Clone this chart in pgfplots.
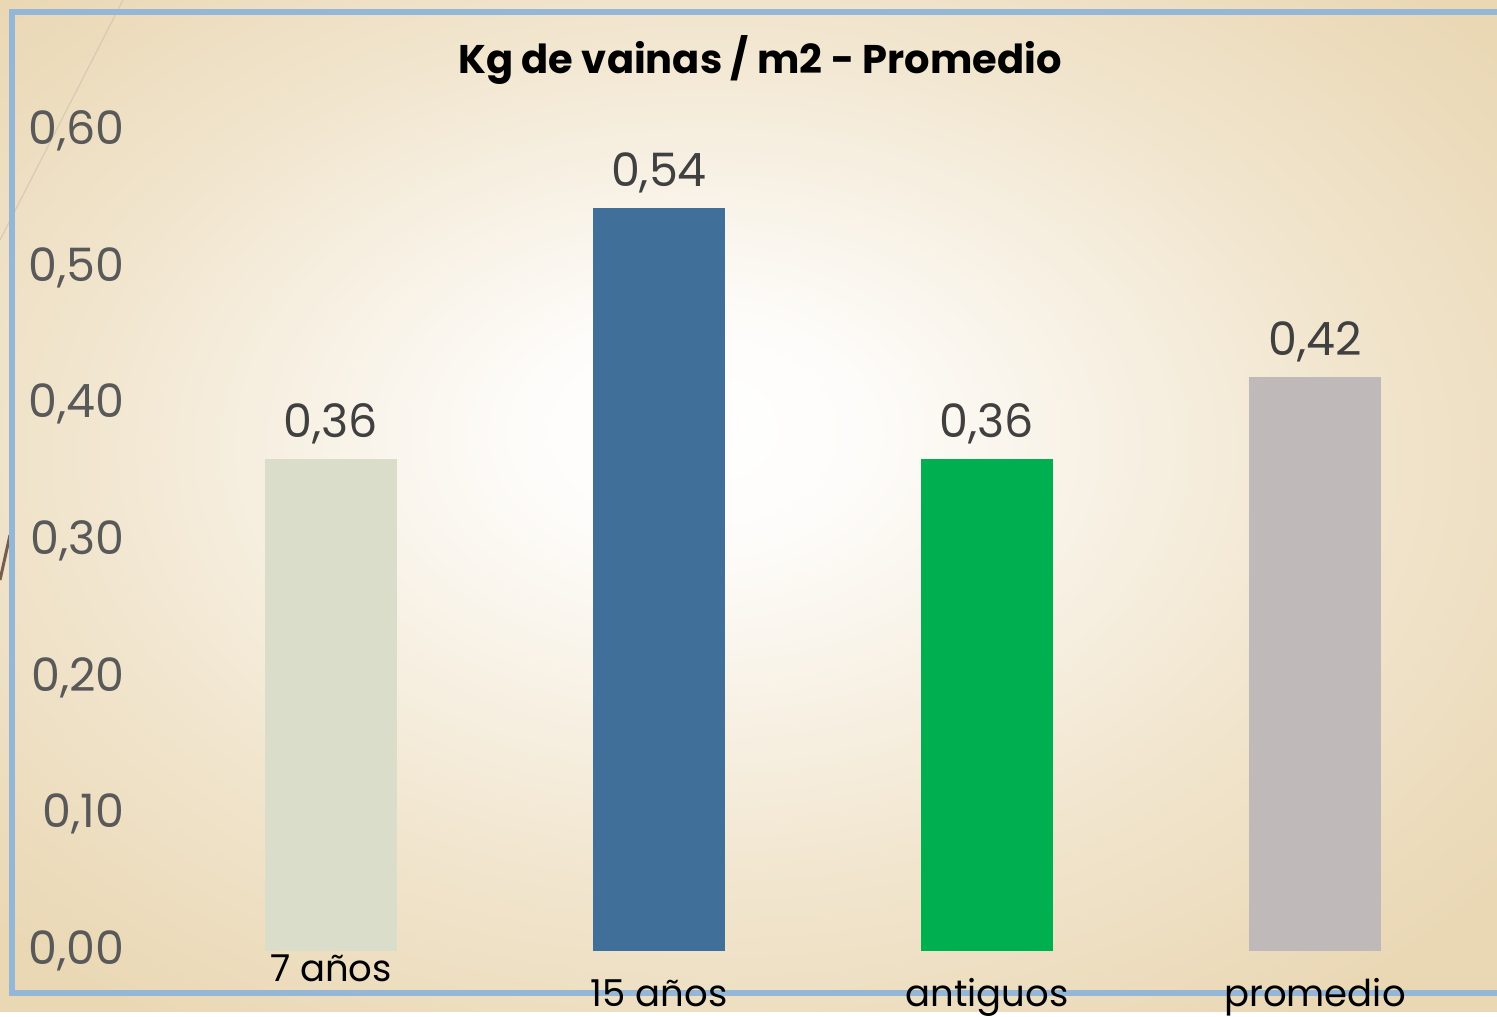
\documentclass[border=0pt]{standalone}
\usepackage{pgfplots}
\pgfplotsset{compat=1.18}
\usepackage{fontspec}
\setmainfont{Poppins}
\definecolor{tanc}{HTML}{EAD8B5}
\definecolor{bordc}{HTML}{94B6D7}
\definecolor{cA}{HTML}{DBDDCB}
\definecolor{cB}{HTML}{407099}
\definecolor{cC}{HTML}{00AF50}
\definecolor{cD}{HTML}{BFB9B9}
\definecolor{tickgray}{HTML}{595959}
\definecolor{labgray}{HTML}{404040}
\definecolor{brownl}{HTML}{7A5C4E}
\definecolor{lightl}{HTML}{D8CAB4}
\pgfdeclareradialshading{bgshade}{\pgfpoint{-2bp}{4bp}}{color(0bp)=(white); color(6bp)=(white!92!tanc); color(21bp)=(white!35!tanc); color(33bp)=(tanc); color(60bp)=(tanc)}
\begin{document}
\begin{tikzpicture}
\begin{scope}[x=0.5pt,y=0.5pt]
\useasboundingbox (0,0) rectangle (1497,1012);
\shade[shading=bgshade] (0,0) rectangle (1497,1012);
\draw[color=lightl, line width=0.6pt] (123,1012) -- (0,772);
\draw[color=brownl, line width=1.5pt] (0,432) -- (10,477);
\draw[color=bordc, line width=2.9pt] (1510,19) -- (12,19) -- (12,1000) -- (1510,1000);
\node[font=\bfseries\fontsize{20}{22}\selectfont, text=black] at (760,952) {Kg de vainas / m2 - Promedio};
\end{scope}
\begin{axis}[
  at={(83.5pt,30.5pt)}, anchor=south west,
  scale only axis, width=656pt, height=410pt,
  xmin=-0.5, xmax=3.5, ymin=0, ymax=0.6,
  axis line style={draw=none}, major tick style={draw=none},
  ytick={0,0.1,...,0.6},
  xtick={0,1,2,3},
  xticklabels={\raisebox{12.5pt}{7 años}, 15 años, antiguos, promedio},
  /pgf/number format/assume math mode=true,
  yticklabel={\pgfmathprintnumber[fixed,fixed zerofill,precision=2,use comma]{\tick}},
  yticklabel style={anchor=east, inner sep=0pt, xshift=-21pt, text=tickgray, font=\fontsize{23}{24}\selectfont},
  xticklabel style={anchor=base, inner sep=0pt, yshift=-23.5pt, text=black, font=\fontsize{18.5}{20}\selectfont},
  ybar, bar width=66pt,
  nodes near coords={\pgfmathprintnumber[fixed,fixed zerofill,precision=2,use comma]{\pgfplotspointmeta}},
  every node near coord/.style={anchor=base, inner sep=0pt, yshift=10.5pt, text=labgray, font=\fontsize{23}{24}\selectfont},
  clip=false,
]
\addplot[fill=cA, draw=none, bar shift=0pt] coordinates {(0,0.36)};
\addplot[fill=cB, draw=none, bar shift=0pt] coordinates {(1,0.544)};
\addplot[fill=cC, draw=none, bar shift=0pt] coordinates {(2,0.36)};
\addplot[fill=cD, draw=none, bar shift=0pt] coordinates {(3,0.42)};
\end{axis}
\end{tikzpicture}
\end{document}
